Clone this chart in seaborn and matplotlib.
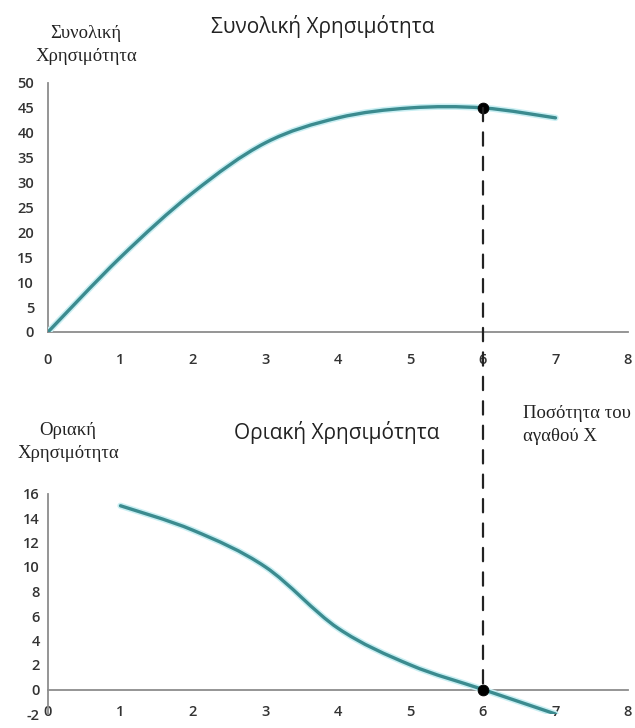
"""Total and marginal utility of good X (two stacked panels)."""

import matplotlib
matplotlib.use("Agg")
import matplotlib.patheffects as pe
import matplotlib.pyplot as plt
import pandas as pd
import seaborn as sns
from matplotlib.patches import ConnectionPatch, PathPatch
from matplotlib.path import Path

# data
quantity = [0, 1, 2, 3, 4, 5, 6, 7]
total_utility = [0, 15, 28, 38, 43, 45, 45, 43]
mu_quantity = [1, 2, 3, 4, 5, 6, 7]
marginal_utility = [15, 13, 10, 5, 2, 0, -2]
optimum_q = 6

x_ticks = list(range(0, 9))
tu_ticks = list(range(0, 55, 5))
mu_ticks = list(range(-2, 18, 2))

LINE = "#3b8b8f"
HALO = "#c9eff3"
AXIS = "#8c8c8c"
TEXT = "#333333"

sns.set_style("white")
plt.rcParams["font.family"] = ["Open Sans", "DejaVu Sans"]
plt.rcParams["axes.unicode_minus"] = False


def smooth_path(xs, ys):
    """Excel-style smoothed line: Catmull-Rom segments as cubic Beziers."""
    pts = list(zip(map(float, xs), map(float, ys)))
    n = len(pts)
    verts = [pts[0]]
    codes = [Path.MOVETO]
    for i in range(n - 1):
        p0 = pts[i - 1] if i > 0 else pts[i]
        p1, p2 = pts[i], pts[i + 1]
        p3 = pts[i + 2] if i + 2 < n else pts[i + 1]
        c1 = (p1[0] + (p2[0] - p0[0]) / 6, p1[1] + (p2[1] - p0[1]) / 6)
        c2 = (p2[0] - (p3[0] - p1[0]) / 6, p2[1] - (p3[1] - p1[1]) / 6)
        verts += [c1, c2, p2]
        codes += [Path.CURVE4] * 3
    return Path(verts, codes)


def style_axes(ax, ylim, yticks, xpad, ypad):
    ax.set_xlim(0, 8)
    ax.set_ylim(*ylim)
    ax.set_xticks(x_ticks)
    ax.set_yticks(yticks)
    for side in ("top", "right"):
        ax.spines[side].set_visible(False)
    for side in ("left", "bottom"):
        ax.spines[side].set_color(AXIS)
        ax.spines[side].set_linewidth(1.3)
    ax.spines["bottom"].set_position(("data", 0))
    ax.tick_params(direction="in", length=4, width=1.1, color=AXIS,
                   labelcolor=TEXT, labelsize=10.5)
    ax.tick_params(axis="x", pad=xpad)
    ax.tick_params(axis="y", pad=ypad)
    for lbl in ax.get_xticklabels() + ax.get_yticklabels():
        lbl.set_fontweight("semibold")
    ax.set_xlabel("")
    ax.set_ylabel("")
    ax.grid(False)


def draw_curve(ax, xs, ys):
    patch = PathPatch(smooth_path(xs, ys), facecolor="none", edgecolor=LINE,
                      lw=2.4, capstyle="round", zorder=3)
    patch.set_path_effects([pe.Stroke(linewidth=4.6, foreground=HALO), pe.Normal()])
    ax.add_patch(patch)


W, H = 635, 728
fig = plt.figure(figsize=(W / 100, H / 100), dpi=100)
fig.patch.set_facecolor("white")

# axes placed to match pixel positions of the reference
ax_top = fig.add_axes([48 / W, 1 - 332 / H, 580 / W, 249 / H])
ax_bot = fig.add_axes([48 / W, 1 - 714 / H, 580 / W, 220.5 / H])

tu_df = pd.DataFrame({"q": quantity, "tu": total_utility})
mu_df = pd.DataFrame({"q": mu_quantity, "mu": marginal_utility})

draw_curve(ax_top, tu_df["q"], tu_df["tu"])
draw_curve(ax_bot, mu_df["q"], mu_df["mu"])

opt_tu = tu_df.loc[tu_df["q"] == optimum_q]
opt_mu = mu_df.loc[mu_df["q"] == optimum_q]
sns.scatterplot(data=opt_tu, x="q", y="tu", ax=ax_top, color="black", s=60,
                edgecolor="black", zorder=5, clip_on=False)
sns.scatterplot(data=opt_mu, x="q", y="mu", ax=ax_bot, color="black", s=60,
                edgecolor="black", zorder=5, clip_on=False)

style_axes(ax_top, (0, 50), tu_ticks, xpad=15, ypad=10)
style_axes(ax_bot, (-2, 16), mu_ticks, xpad=11, ypad=6)

# dashed guide from the maximum of TU down to MU = 0
guide = ConnectionPatch(xyA=(optimum_q, opt_tu["tu"].iloc[0]), coordsA=ax_top.transData,
                        xyB=(optimum_q, opt_mu["mu"].iloc[0]), coordsB=ax_bot.transData,
                        color="#222222", lw=1.6, linestyle=(0, (6, 5)), zorder=4)
fig.add_artist(guide)

# titles and axis captions
fig.text(323 / W, 1 - 26 / H, "Συνολική Χρησιμότητα", ha="center", va="center",
         fontsize=15, color="#222222")
fig.text(337 / W, 1 - 433 / H, "Οριακή Χρησιμότητα", ha="center", va="center",
         fontsize=15, color="#222222")
serif = ["Liberation Serif", "DejaVu Serif"]
fig.text(86 / W, 1 - 45 / H, "Συνολική\nΧρησιμότητα", ha="center", va="center",
         fontsize=13.5, family=serif, color="#222222", linespacing=1.4)
fig.text(68 / W, 1 - 442 / H, "Οριακή\nΧρησιμότητα", ha="center", va="center",
         fontsize=13.5, family=serif, color="#222222", linespacing=1.4)
fig.text(523 / W, 1 - 425 / H, "Ποσότητα του\nαγαθού X", ha="left", va="center",
         fontsize=13.5, family=serif, color="#222222", linespacing=1.4)

fig.savefig("out.png", dpi=100, facecolor="white")
plt.close(fig)
